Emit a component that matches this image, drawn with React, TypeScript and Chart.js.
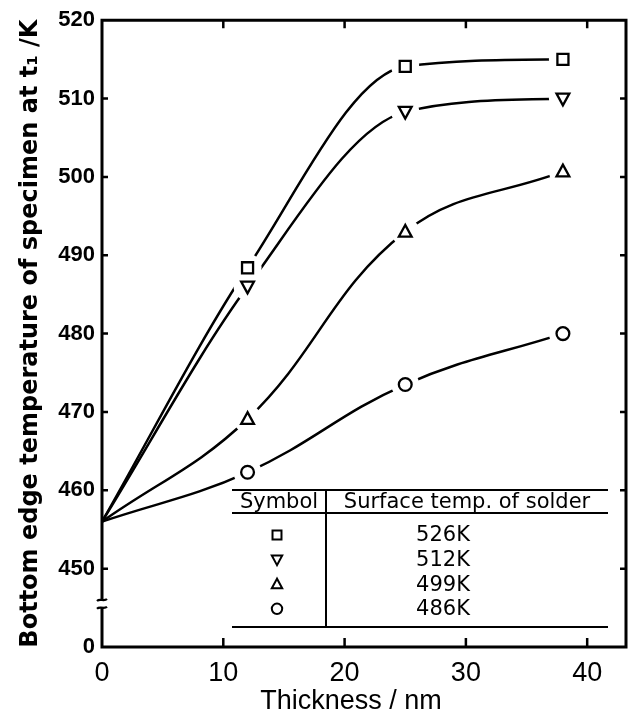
import React, { useEffect, useRef } from 'react';
import { Chart, registerables } from 'chart.js';

Chart.register(...registerables);

// ---- data ----
const thickness = [0, 12, 25, 38];
const temp526 = [456, 488.4, 514.1, 515.0];
const temp512 = [456, 486.0, 508.3, 510.0];
const temp499 = [456, 469.1, 493.0, 500.7];
const temp486 = [456, 462.3, 473.5, 480.0];
const seriesLabels = ['526K', '512K', '499K', '486K'];
const seriesValues = [temp526, temp512, temp499, temp486];
const legendHeader = ['Symbol', 'Surface temp. of solder'];
const xTitle = 'Thickness / nm';
const yTitle = 'Bottom edge temperature of specimen at t\u2081 /K';
const yMin = 440; // shown as "0" below the axis break
const yMax = 520;
const xMax = 43.2;

type Sym = 'rect' | 'triangleDown' | 'triangle' | 'circle';
const symbols: Sym[] = ['rect', 'triangleDown', 'triangle', 'circle'];

function pts(vals: number[]) {
  return thickness.map((x, i) => ({ x, y: vals[i] }));
}

function symbolPath(ctx: CanvasRenderingContext2D, s: Sym, cx: number, cy: number, r: number) {
  ctx.beginPath();
  if (s === 'rect') {
    const h = r * 0.69;
    ctx.rect(cx - h, cy - h, 2 * h, 2 * h);
  } else if (s === 'circle') {
    ctx.arc(cx, cy, r * 0.8, 0, Math.PI * 2);
  } else {
    const dir = s === 'triangle' ? -1 : 1;
    const w = r * 0.8;
    ctx.moveTo(cx, cy + dir * r * 0.85);
    ctx.lineTo(cx - w, cy - dir * r * 0.62);
    ctx.lineTo(cx + w, cy - dir * r * 0.62);
    ctx.closePath();
  }
}

function drawSymbol(ctx: CanvasRenderingContext2D, s: Sym, cx: number, cy: number, r: number) {
  symbolPath(ctx, s, cx, cy, r);
  ctx.fillStyle = '#fff';
  ctx.fill();
  ctx.stroke();
}

// markers (with a white gap round them) drawn on the library's point positions
const markerPlugin = {
  id: 'markers',
  afterDatasetsDraw(chart: any) {
    const ctx = chart.ctx;
    ctx.save();
    chart.data.datasets.forEach((_d: any, di: number) => {
      const meta = chart.getDatasetMeta(di);
      meta.data.forEach((el: any, j: number) => {
        if (j === 0) return;
        ctx.fillStyle = '#fff';
        ctx.beginPath();
        ctx.arc(el.x, el.y, 14, 0, Math.PI * 2);
        ctx.fill();
      });
    });
    chart.data.datasets.forEach((_d: any, di: number) => {
      const meta = chart.getDatasetMeta(di);
      meta.data.forEach((el: any, j: number) => {
        if (j === 0) return;
        ctx.strokeStyle = '#000';
        ctx.lineWidth = 2.3;
        ctx.lineJoin = 'miter';
        drawSymbol(ctx, symbols[di], el.x, el.y, 8);
      });
    });
    ctx.restore();
  },
};

const decorPlugin = {
  id: 'decor',
  afterDraw(chart: any) {
    const { ctx, chartArea } = chart;
    const { left, right, top, bottom } = chartArea;
    const xs = chart.scales.x;
    const ys = chart.scales.y;
    ctx.save();
    ctx.strokeStyle = '#000';
    ctx.lineWidth = 3;
    ctx.lineCap = 'square';
    // frame
    ctx.beginPath();
    ctx.moveTo(left, bottom);
    ctx.lineTo(right, bottom);
    ctx.lineTo(right, top);
    ctx.lineTo(left, top);
    ctx.closePath();
    ctx.stroke();
    ctx.lineCap = 'butt';
    // inward ticks
    ctx.lineWidth = 2.5;
    xs.ticks.forEach((t: any) => {
      if (t.value <= 0) return;
      const px = xs.getPixelForValue(t.value);
      ctx.beginPath();
      ctx.moveTo(px, bottom);
      ctx.lineTo(px, bottom - 9);
      ctx.moveTo(px, top);
      ctx.lineTo(px, top + 8);
      ctx.stroke();
    });
    ys.ticks.forEach((t: any) => {
      if (t.value <= yMin || t.value >= yMax) return;
      const py = ys.getPixelForValue(t.value);
      ctx.beginPath();
      ctx.moveTo(left, py);
      ctx.lineTo(left + 6, py);
      ctx.moveTo(right, py);
      ctx.lineTo(right - 6, py);
      ctx.stroke();
    });
    // axis break
    const b1 = ys.getPixelForValue(446);
    const b2 = ys.getPixelForValue(445);
    ctx.fillStyle = '#fff';
    ctx.fillRect(left - 4, b1 + 1, 8, b2 - b1 - 2);
    ctx.lineWidth = 2.2;
    [b1, b2].forEach((by: number) => {
      ctx.beginPath();
      ctx.moveTo(left - 5, by + 1);
      ctx.bezierCurveTo(left - 2, by - 2, left + 2, by + 2, left + 5, by - 1);
      ctx.stroke();
    });

    // legend table
    const tL = left + 130;
    const tR = right - 18;
    const tTop = bottom - 157;
    const tHead = bottom - 134;
    const tBot = bottom - 20;
    const div = left + 224;
    ctx.lineWidth = 2;
    ctx.beginPath();
    ctx.moveTo(tL, tTop); ctx.lineTo(tR, tTop);
    ctx.moveTo(tL, tHead); ctx.lineTo(tR, tHead);
    ctx.moveTo(tL, tBot); ctx.lineTo(tR, tBot);
    ctx.moveTo(div, tTop); ctx.lineTo(div, tBot);
    ctx.stroke();
    ctx.fillStyle = '#000';
    ctx.font = '21px "DejaVu Sans"';
    ctx.textAlign = 'center';
    ctx.textBaseline = 'middle';
    const headY = (tTop + tHead) / 2 + 1;
    ctx.fillText(legendHeader[0], (tL + div) / 2, headY);
    ctx.fillText(legendHeader[1], (div + tR) / 2, headY);
    seriesLabels.forEach((lab, i) => {
      const ry = tHead + 22 + i * 24.6;
      ctx.fillStyle = '#000';
      ctx.fillText(lab, left + 341, ry + 1);
      ctx.lineWidth = 2;
      drawSymbol(ctx, symbols[i], left + 175, ry, 6.5);
      ctx.fillStyle = '#000';
    });

    // x title
    ctx.fillStyle = '#000';
    ctx.font = '27px "Liberation Sans"';
    ctx.textAlign = 'center';
    ctx.textBaseline = 'middle';
    ctx.fillText(xTitle, 351, chart.height - 15);
    ctx.restore();
  },
};

export default function App() {
  const ref = useRef<HTMLCanvasElement | null>(null);
  useEffect(() => {
    if (!ref.current) return;
    const datasets: any[] = seriesValues.map((vals, i) => {
      const smooth = i < 2
        ? { cubicInterpolationMode: 'monotone' }
        : { tension: 0.4 };
      return {
        label: seriesLabels[i],
        data: pts(vals),
        borderColor: '#000',
        borderWidth: 2.5,
        fill: false,
        ...smooth,
        pointRadius: 0,
        pointHoverRadius: 0,
      };
    });

    const chart = new Chart(ref.current, {
      type: 'line',
      data: { datasets },
      plugins: [markerPlugin, decorPlugin],
      options: {
        animation: false,
        responsive: true,
        maintainAspectRatio: false,
        layout: { padding: { left: 0, top: 18, right: 8, bottom: 0 } },
        plugins: { legend: { display: false }, tooltip: { enabled: false } },
        scales: {
          x: {
            type: 'linear',
            min: 0,
            max: xMax,
            grid: { display: false, drawTicks: false },
            border: { display: false },
            ticks: {
              stepSize: 10,
              includeBounds: false,
              padding: 10,
              color: '#000',
              maxRotation: 0,
              font: { family: 'Liberation Sans', size: 27 },
            },
            afterFit: (s: any) => { s.height = 70; },
          },
          y: {
            type: 'linear',
            min: yMin,
            max: yMax,
            grid: { display: false, drawTicks: false },
            border: { display: false },
            ticks: {
              stepSize: 10,
              padding: 7,
              color: '#000',
              font: { family: 'Liberation Sans', size: 22, weight: 'bold' },
              callback: (v: any) => (v === yMin ? '0' : String(v)),
            },
            title: {
              display: true,
              text: yTitle,
              color: '#000',
              font: { family: 'DejaVu Sans', size: 24, weight: 'bold' },
              padding: { top: 16, bottom: 0 },
            },
            afterFit: (s: any) => { s.width = 102; },
          },
        },
      } as any,
    });
    return () => chart.destroy();
  }, []);

  return (
    <div style={{ position: 'absolute', left: 0, top: 0, width: '634px', height: '717px', background: '#fff' }}>
      <canvas ref={ref} />
    </div>
  );
}
